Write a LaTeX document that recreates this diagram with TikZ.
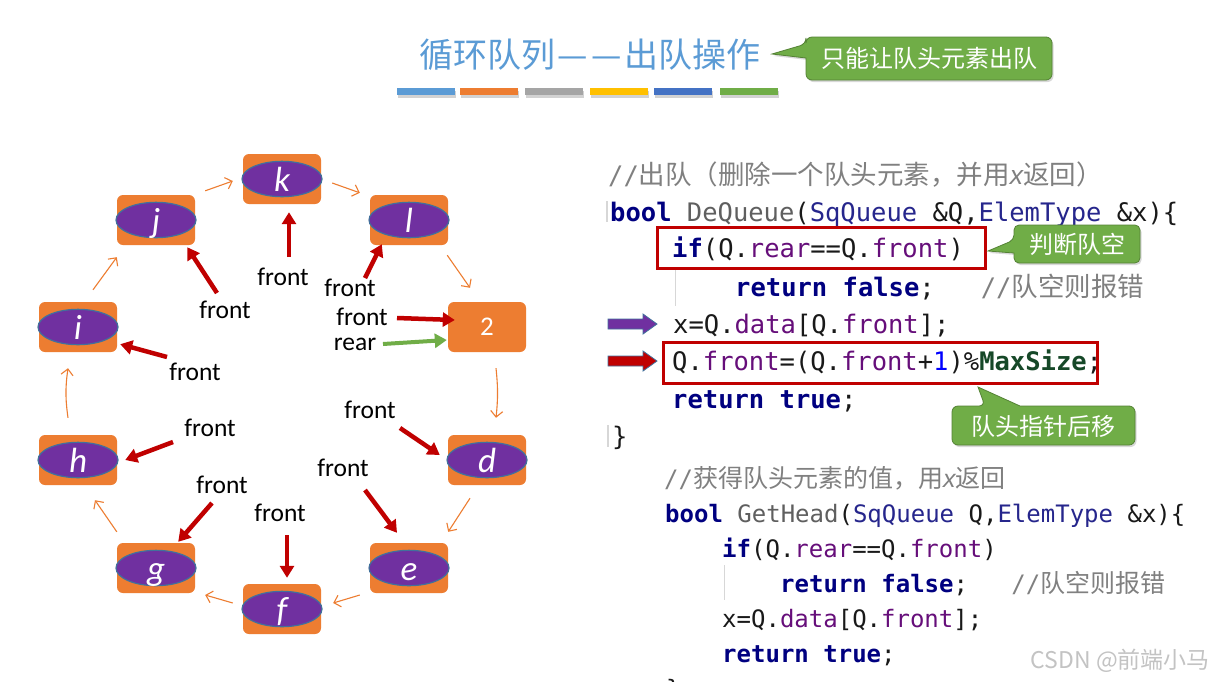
\documentclass[tikz,border=0pt]{standalone}
\usepackage{fontspec}
\setmainfont{Carlito}
\newfontfamily\cjk{Noto Sans CJK SC}
\newfontfamily\codef{DejaVu Sans Mono}
\newfontfamily\litf{Liberation Sans}
\usetikzlibrary{arrows.meta,shapes.geometric,calc,shadows}

\definecolor{qorange}{RGB}{237,125,49}
\definecolor{qpurple}{RGB}{112,48,160}
\definecolor{qblue}{RGB}{65,113,156}
\definecolor{qred}{RGB}{192,0,0}
\definecolor{qgreen}{RGB}{112,173,71}
\definecolor{qgreendark}{RGB}{84,130,53}
\definecolor{titleblue}{RGB}{91,155,213}
\definecolor{barblue}{RGB}{91,155,213}
\definecolor{bargray}{RGB}{165,165,165}
\definecolor{baryellow}{RGB}{255,192,0}
\definecolor{bardark}{RGB}{68,114,196}
\definecolor{kwcol}{RGB}{0,0,128}
\definecolor{tycol}{RGB}{38,38,140}
\definecolor{fncol}{RGB}{95,95,95}
\definecolor{memcol}{RGB}{102,14,122}
\definecolor{numcol}{RGB}{0,0,255}
\definecolor{mscol}{RGB}{22,72,40}
\definecolor{cmtcol}{RGB}{128,128,128}
\definecolor{txtcol}{RGB}{25,25,25}
\definecolor{guide}{RGB}{215,215,215}
\definecolor{wmark}{RGB}{195,195,195}

\newcommand\Kw[1]{{\color{kwcol}\bfseries #1}}
\newcommand\Ty[1]{{\color{tycol}#1}}
\newcommand\Fn[1]{{\color{fncol}#1}}
\newcommand\Mem[1]{{\color{memcol}#1}}
\newcommand\Num[1]{{\color{numcol}#1}}
\newcommand\Cmt[1]{{\color{cmtcol}#1}}
\newcommand\CJKa[1]{{\cjk\fontsize{26.5}{30}\selectfont #1}}
\newcommand\CJKb[1]{{\cjk\fontsize{25}{30}\selectfont #1}}

\tikzset{
  qbox/.style={rectangle, rounded corners=6pt, fill=qorange, minimum width=78pt, minimum height=50pt, inner sep=0pt},
  qell/.style={ellipse, fill=qpurple, draw=qblue, line width=1.2pt, minimum width=80pt, minimum height=27pt, inner sep=0pt, text=white, text height=25pt, text depth=0pt, font=\fontsize{35}{36}\selectfont\itshape},
  lbl/.style={font=\fontsize{25.5}{28}\selectfont, inner sep=0pt, text=black},
  oarr/.style={draw=qorange, line width=1.1pt, -{Straight Barb[length=6pt,width=12pt]}},
  rarr/.style={draw=qred, line width=4.5pt, -{Triangle[length=12pt,width=14pt]}},
  garr/.style={draw=qgreen, line width=4pt, -{Triangle[length=12pt,width=14pt]}},
  codeA/.style={anchor=base west, inner sep=0pt, font=\codef\fontsize{25.5}{30}\selectfont, text=txtcol},
  codeB/.style={anchor=base west, inner sep=0pt, font=\codef\fontsize{24}{28}\selectfont, text=txtcol},
  callout/.style={fill=qgreen, draw=qgreendark, line width=0.8pt, drop shadow={opacity=0.3, shadow xshift=1.5pt, shadow yshift=-2pt}},
  ctext/.style={font=\cjk\fontsize{24}{28}\selectfont, text=white, inner sep=0pt},
  hl/.style={draw=qred, line width=3pt},
  bar/.style={drop shadow={opacity=0.35, shadow xshift=1pt, shadow yshift=-2.5pt}},
  blockarrow/.style={draw=qblue, line width=0.8pt}
}

\begin{document}
\begin{tikzpicture}[x=1pt,y=-1pt]
\useasboundingbox (0,0) rectangle (1215,681);
\clip (0,0) rectangle (1215,681);
\fill[white] (0,0) rectangle (1215,681);

% ---------- title ----------
\node[font=\cjk\fontsize{34}{38}\selectfont, text=titleblue, inner sep=0pt] (title) at (590,55) {循环队列\kern2pt—\kern4pt—\kern2pt出队操作};
\fill[barblue, bar]   (397,88) rectangle (455,95);
\fill[qorange, bar]   (460,88) rectangle (518,95);
\fill[bargray, bar]   (525,88) rectangle (583,95);
\fill[baryellow, bar] (590,88) rectangle (648,95);
\fill[bardark, bar]   (654,88) rectangle (712,95);
\fill[qgreen, bar]    (720,88) rectangle (778,95);

% callout 1
\draw[callout] (806,58) [rounded corners=6pt] -- (806,80) -- (1052,80) -- (1052,37) -- (806,37) -- (806,44) [sharp corners] -- (772,54) -- cycle;
\node[ctext] (c1) at (929,58) {只能让队头元素出队};

% ---------- queue boxes ----------
\node[qbox] (bk) at (282,179) {};
\node[qbox] (bj) at (156,220) {};
\node[qbox] (bl) at (409,220) {};
\node[qbox] (bi) at (78,327) {};
\node[qbox, font=\fontsize{27}{30}\selectfont, text=white] (b2) at (487,327) {2};
\node[qbox] (bh) at (78,460) {};
\node[qbox] (bd) at (487,460) {};
\node[qbox] (bg) at (156,568) {};
\node[qbox] (be) at (409,568) {};
\node[qbox] (bf) at (282,609) {};

\node[qell] (k) at (bk) {k};
\node[qell] (j) at (bj) {j};
\node[qell] (l) at (bl) {l};
\node[qell] (i) at (bi) {i};
\node[qell] (h) at (bh) {h};
\node[qell] (d) at (bd) {d};
\node[qell] (g) at (bg) {g};
\node[qell] (e) at (be) {e};
\node[qell] (f) at (bf) {f};

% ---------- ring arrows ----------
\draw[oarr] ($(bj.north east)+(10,-4)$) -- ($(bk.west)+(-10,2)$);
\draw[oarr] ($(bk.east)+(11,4)$) -- ($(bl.north west)+(-10,-2)$);
\draw[oarr] ($(bl.south east)+(-1,10)$) -- ($(b2.north)+(-17,-14)$);
\draw[oarr] ($(b2.south)+(9,16)$) to[bend left=6] ($(bd.north)+(9,-17)$);
\draw[oarr] ($(bd.south)+(-17,13)$) -- ($(be.north east)+(0,-11)$);
\draw[oarr] ($(be.west)+(-10,27)$) -- ($(bf.east)+(12,-6)$);
\draw[oarr] ($(bf.west)+(-10,-6)$) -- ($(bg.east)+(10,27)$);
\draw[oarr] ($(bg.north west)+(0,-11)$) -- ($(bh.south)+(17,15)$);
\draw[oarr] ($(bh.north)+(-10,-17)$) to[bend left=8] ($(bi.south)+(-10,16)$);
\draw[oarr] ($(bi.north)+(15,-12)$) -- ($(bj.south west)+(0,12)$);

% ---------- front / rear labels ----------
\node[lbl] (fk) at (283,277) {front};
\node[lbl] (fj) at (225,310) {front};
\node[lbl] (fl) at (350,288) {front};
\node[lbl] (f2) at (362,317) {front};
\node[lbl] (r2) at (355,344) {rear};
\node[lbl] (fi) at (195,372) {front};
\node[lbl] (fh) at (210,428) {front};
\node[lbl] (fg) at (222,485) {front};
\node[lbl] (ff) at (280,513) {front};
\node[lbl] (fe) at (343,468) {front};
\node[lbl] (fd) at (370,410) {front};

\draw[rarr] ($(fk)+(6,-20)$) -- ($(bk.south)+(7,8)$);
\draw[rarr] ($(fj)+(-8,-17)$) -- ($(bj.south east)+(-8,2)$);
\draw[rarr] ($(fl)+(15,-10)$) -- ($(bl.south west)+(12,-1)$);
\draw[rarr] ($(f2)+(35,1)$) -- ($(b2.west)+(7,-7)$);
\draw[garr] ($(r2)+(28,0)$) -- ($(b2.west)+(-1,13)$);
\draw[rarr] ($(fi)+(-28,-15)$) -- ($(bi.south east)+(3,-8)$);
\draw[rarr] ($(fh)+(-37,14)$) -- ($(bh.east)+(8,0)$);
\draw[rarr] ($(fg)+(-10,18)$) -- ($(bg.north east)+(-17,-1)$);
\draw[rarr] ($(ff)+(7,22)$) -- ($(bf.north)+(5,-6)$);
\draw[rarr] ($(fe)+(22,22)$) -- ($(be.north)+(-12,-10)$);
\draw[rarr] ($(fd)+(30,18)$) -- ($(bd.west)+(-8,-5)$);

% ---------- code block 1 ----------
\draw[guide, line width=1.5pt] (607,201) -- (607,222);
\draw[guide, line width=1pt] (675,268) -- (675,306);
\draw[guide, line width=1.5pt] (608,425) -- (608,447);

\node[codeA] (a1) at (608,184) {\Cmt{//\CJKa{出队（删除一个队头元素，并用{\litf\itshape x}返回）}}};
\node[codeA] (a2) at (610,221) {\Kw{bool} \Fn{DeQueue}(\Ty{SqQueue} \&Q,\Ty{ElemType} \&x)\{};
\node[codeA] (a3) at (672,257) {\Kw{if}(Q.\Mem{rear}==Q.\Mem{front})};
\node[codeA] (a4) at (735,296) {\Kw{return} \Kw{false};\ \ \ \Cmt{//\CJKa{队空则报错}}};
\node[codeA] (a5) at (673,333) {x=Q.\Mem{data}[Q.\Mem{front}];};
\node[codeA] (a6) at (672,370) {Q.\Mem{front}=(Q.\Mem{front}+\Num{1})\%{\color{mscol}\bfseries MaxSize};};
\node[codeA] (a7) at (672,408) {\Kw{return} \Kw{true};};
\node[codeA] (a8) at (612,445) {\}};

\draw[hl] (657,227) rectangle (985,268);
\draw[hl] (663,342) rectangle (1097,383);

% block arrows
\filldraw[fill=qpurple, blockarrow] (608,319) -- (643,319) -- (643,314) -- (657,324) -- (643,334) -- (643,329) -- (608,329) -- cycle;
\filldraw[fill=qred, blockarrow] (608,356) -- (643,356) -- (643,351) -- (657,361) -- (643,371) -- (643,366) -- (608,366) -- cycle;

% callout 2
\draw[callout] (1014,253) [rounded corners=5pt] -- (1014,263) -- (1140,263) -- (1140,225) -- (1014,225) -- (1014,240) [sharp corners] -- (988,251) -- cycle;
\node[ctext] (c2) at (1077,244) {判断队空};

% callout 3
\draw[callout] (1020,406) [rounded corners=6pt] -- (1135,406) -- (1135,445) -- (952,445) -- (952,406) -- (985,406) [sharp corners] -- (978,387) -- cycle;
\node[ctext] (c3) at (1043,426) {队头指针后移};

% ---------- code block 2 ----------
\draw[guide, line width=1pt] (724,565) -- (724,600);
\node[codeB] (b1) at (664,487) {\Cmt{//\CJKb{获得队头元素的值，用{\litf\itshape x}返回}}};
\node[codeB] (bb2) at (665,522) {\Kw{bool} \Fn{GetHead}(\Ty{SqQueue} Q,\Ty{ElemType} \&x)\{};
\node[codeB] (bb3) at (722,557) {\Kw{if}(Q.\Mem{rear}==Q.\Mem{front})};
\node[codeB] (bb4) at (780,592) {\Kw{return} \Kw{false};\ \ \ \Cmt{//\CJKb{队空则报错}}};
\node[codeB] (bb5) at (722,627) {x=Q.\Mem{data}[Q.\Mem{front}];};
\node[codeB] (bb6) at (722,662) {\Kw{return} \Kw{true};};
\node[codeB] (bb7) at (666,697) {\}};

% watermark
\node[font=\cjk\fontsize{23}{26}\selectfont, text=wmark, anchor=east, inner sep=0pt] (wm) at (1210,661) {CSDN @前端小马};
\end{tikzpicture}
\end{document}
